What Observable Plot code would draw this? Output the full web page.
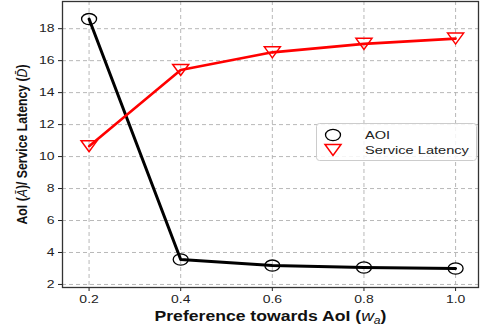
<!DOCTYPE html>
<html>
<head>
<meta charset="utf-8">
<script src="https://cdn.jsdelivr.net/npm/d3@7"></script>
<script src="https://cdn.jsdelivr.net/npm/@observablehq/plot@0.6"></script>
<style>
  html, body { margin: 0; padding: 0; background: #fff; }
  #wrap { position: relative; width: 482px; height: 326px; font-family: "Liberation Sans", Arial, sans-serif; }
  #legend { position: absolute; left: 316px; top: 123px; }
</style>
</head>
<body>
<div id="wrap">
  <div id="chart"></div>
  <svg id="legend" width="161" height="38" font-family="Liberation Sans, Arial, sans-serif"></svg>
</div>
<script>
const weights = [0.2, 0.4, 0.6, 0.8, 1.0];
const aoi = [18.6, 3.56, 3.18, 3.06, 3.0];
const latency = [10.65, 15.42, 16.52, 17.05, 17.38];
const xTicks = [0.2, 0.4, 0.6, 0.8, 1.0];
const yTicks = [2, 4, 6, 8, 10, 12, 14, 16, 18];
const seriesNames = ["AOI", "Service Latency"];

const aoiData = weights.map((w, i) => ({w, v: aoi[i]}));
const latData = weights.map((w, i) => ({w, v: latency[i]}));

// squashed ellipse (the reference is stretched horizontally)
const ellipseSymbol = {
  draw(ctx) {
    const rx = 7.5, ry = 5.6, k = 0.5523;
    ctx.moveTo(rx, 0);
    ctx.bezierCurveTo(rx, k * ry, k * rx, ry, 0, ry);
    ctx.bezierCurveTo(-k * rx, ry, -rx, k * ry, -rx, 0);
    ctx.bezierCurveTo(-rx, -k * ry, -k * rx, -ry, 0, -ry);
    ctx.bezierCurveTo(k * rx, -ry, rx, -k * ry, rx, 0);
    ctx.closePath();
  }
};
const downTriangle = {
  draw(ctx) {
    ctx.moveTo(-8, -5.5);
    ctx.lineTo(8, -5.5);
    ctx.lineTo(0, 5.5);
    ctx.closePath();
  }
};

const chart = Plot.plot({
  width: 482,
  height: 326,
  marginLeft: 62,
  marginTop: 1,
  marginBottom: 39,
  marginRight: 4,
  style: {fontFamily: '"Liberation Sans", Arial, sans-serif', fontSize: "11px", color: "#222", background: "#fff"},
  x: {domain: [0.142, 1.05], ticks: xTicks, tickFormat: d3.format(".1f"), label: null},
  y: {domain: [1.81, 19.7], ticks: yTicks, label: null},
  marks: [
    Plot.gridX(xTicks, {stroke: "#b0b0b0", strokeOpacity: 1, strokeDasharray: "4,3", strokeWidth: 0.9}),
    Plot.gridY(yTicks, {stroke: "#b0b0b0", strokeOpacity: 1, strokeDasharray: "4,3", strokeWidth: 0.9}),
    Plot.axisX(xTicks, {tickSize: 4, tickPadding: 4, fontSize: 11, tickFormat: d3.format(".1f"), label: "Preference towards AoI (wa)", labelAnchor: "center", labelArrow: "none", labelOffset: 33}),
    Plot.axisY(yTicks, {tickSize: 4, tickPadding: 4, fontSize: 11, label: "AoI (A)/ Service Latency (D)", labelAnchor: "center", labelArrow: "none", labelOffset: 46}),
    Plot.frame({stroke: "#333", strokeWidth: 1.3}),
    Plot.line(aoiData, {x: "w", y: "v", stroke: "#000", strokeWidth: 3}),
    Plot.line(latData, {x: "w", y: "v", stroke: "red", strokeWidth: 2.6}),
    Plot.dot(aoiData, {x: "w", y: "v", symbol: ellipseSymbol, stroke: "#000", strokeWidth: 1.3, fill: "none"}),
    Plot.dot(latData, {x: "w", y: "v", symbol: downTriangle, stroke: "red", strokeWidth: 1.5, fill: "none"})
  ]
});
document.getElementById("chart").appendChild(chart);

function stretch(el, factor) {
  const len = el.getComputedTextLength();
  el.setAttribute("textLength", len * factor);
  el.setAttribute("lengthAdjust", "spacingAndGlyphs");
}
function fitLength(el, target) {
  el.setAttribute("textLength", target);
  el.setAttribute("lengthAdjust", "spacingAndGlyphs");
}

const svg = d3.select(chart);
svg.selectAll("text").each(function() {
  const t = d3.select(this);
  const s = t.text();
  if (s === "Preference towards AoI (wa)") {
    t.text(null).attr("font-weight", "bold").attr("font-size", 14.5).attr("fill", "#111");
    t.append("tspan").text("Preference towards AoI (");
    t.append("tspan").attr("font-style", "italic").attr("font-weight", "normal").text("w");
    t.append("tspan").attr("font-style", "italic").attr("font-weight", "normal").attr("font-size", 10).attr("dy", 3).text("a");
    t.append("tspan").attr("dy", -3).text(")");
    fitLength(this, 232);
  } else if (s === "AoI (A)/ Service Latency (D)") {
    t.text(null).attr("font-weight", "bold").attr("font-size", 15).attr("fill", "#111");
    t.append("tspan").text("AoI (");
    t.append("tspan").attr("font-style", "italic").attr("font-weight", "normal").text("A\u0304");
    t.append("tspan").text(")/ Service Latency (");
    t.append("tspan").attr("font-style", "italic").attr("font-weight", "normal").text("D\u0304");
    t.append("tspan").text(")");
    fitLength(this, 160);
  }
});
// tick labels: horizontally stretched like the reference
svg.selectAll("g[aria-label='x-axis tick label'] text, g[aria-label='y-axis tick label'] text").each(function() {
  stretch(this, 1.27);
});

// legend
const leg = d3.select("#legend");
leg.append("rect").attr("x", 0.5).attr("y", 0.5).attr("width", 160).attr("height", 37).attr("rx", 3)
  .attr("fill", "rgba(255,255,255,0.85)").attr("stroke", "#ccc");
leg.append("ellipse").attr("cx", 17).attr("cy", 12).attr("rx", 7.5).attr("ry", 5.6)
  .attr("fill", "none").attr("stroke", "#000").attr("stroke-width", 1.3);
leg.append("path").attr("d", "M9,21.5 L25,21.5 L17,32.5 Z")
  .attr("fill", "none").attr("stroke", "red").attr("stroke-width", 1.5);
const labels = leg.selectAll("text.lab").data(seriesNames).join("text")
  .attr("x", 49).attr("y", (d, i) => 16 + i * 15)
  .attr("font-size", 11.5).attr("fill", "#222").text(d => d);
labels.each(function() { stretch(this, 1.27); });
</script>
</body>
</html>
